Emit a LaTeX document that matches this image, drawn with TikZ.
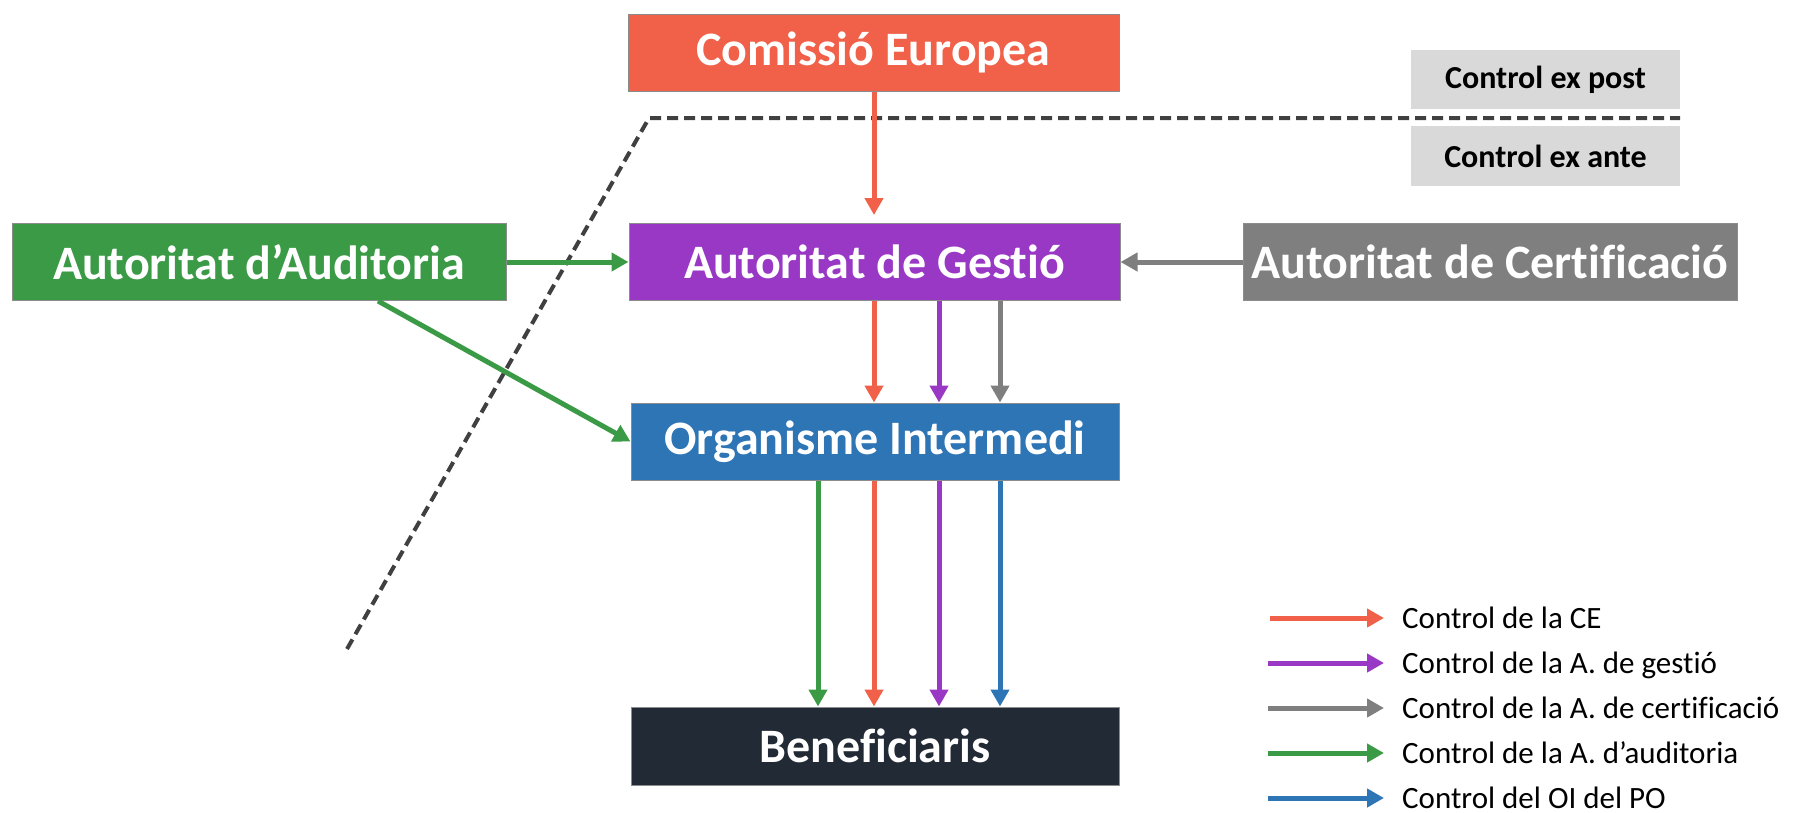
\documentclass[tikz,border=0pt]{standalone}
\usepackage{fontspec}
\setmainfont{Carlito}[Ligatures=NoCommon]
\usetikzlibrary{arrows.meta}
\definecolor{ceC}{RGB}{241,96,72}
\definecolor{agC}{RGB}{153,56,196}
\definecolor{acC}{RGB}{127,127,127}
\definecolor{aaC}{RGB}{58,154,70}
\definecolor{oiC}{RGB}{46,117,182}
\definecolor{beC}{RGB}{34,42,53}
\definecolor{ctC}{RGB}{217,217,217}
\definecolor{dashC}{RGB}{64,64,64}
\begin{document}
\begin{tikzpicture}[x=1pt,y=-1pt,
  box/.style={draw=black!45, line width=1pt, inner sep=0pt, text=white,
    minimum height=77pt, font=\fontsize{48}{57}\selectfont\bfseries},
  ctbox/.style={fill=ctC, inner sep=0pt, text=black, minimum width=269pt,
    minimum height=59pt, font=\fontsize{32}{38}\selectfont\bfseries},
  arr/.style={line width=5pt, -{Triangle[width=18pt,length=17pt]}},
  dashline/.style={draw=dashC, line width=4pt, dash pattern=on 11pt off 6pt},
  legtext/.style={inner sep=0pt, anchor=base west, text=black,
    font=\fontsize{31}{37}\selectfont}
]
\useasboundingbox (0,0) rectangle (1796,812);

% dashed separator
\coordinate (d1) at (347,649);
\coordinate (d2) at (649,118);
\coordinate (d3) at (1680,118);
\draw[dashline] (d1) -- (d2) -- (d3);

% boxes
\node[box, fill=ceC, minimum width=491pt] (ce) at (873.5,52.5) {Comissió Europea};
\node[box, fill=aaC, minimum width=494pt] (aa) at (259,262) {Autoritat d’Auditoria};
\node[box, fill=agC, minimum width=491pt] (ag) at (874.5,262) {Autoritat de Gestió};
\node[box, fill=acC, minimum width=494pt] (ac) at (1490,261.5) {Autoritat de Certificació};
\node[box, fill=oiC, minimum width=488pt] (oi) at (875,441.5) {Organisme Intermedi};
\node[box, fill=beC, minimum width=488pt, minimum height=78pt] (be) at (875,746) {Beneficiaris};

\node[ctbox] (post) at (1545.5,79.5) {Control ex post};
\node[ctbox, minimum height=60pt] (ante) at (1545.5,156) {Control ex ante};

% column coordinates
\coordinate (xg) at (818,0);
\coordinate (xr) at (874,0);
\coordinate (xp) at (939,0);
\coordinate (xc) at (1000,0);
\coordinate (xd) at (378,0);

% connectors
\draw[arr, ceC, shorten >=8pt] (ce.south -| xr) -- (ag.north -| xr);
\draw[arr, aaC] (aa.east) -- (ag.west);
\draw[arr, acC] (ac.west |- ag.east) -- (ag.east);
\draw[arr, aaC] (aa.south -| xd) -- (oi.west);

\draw[arr, ceC] (ag.south -| xr) -- (oi.north -| xr);
\draw[arr, agC] (ag.south -| xp) -- (oi.north -| xp);
\draw[arr, acC] (ag.south -| xc) -- (oi.north -| xc);

\draw[arr, aaC] (oi.south -| xg) -- (be.north -| xg);
\draw[arr, ceC] (oi.south -| xr) -- (be.north -| xr);
\draw[arr, agC] (oi.south -| xp) -- (be.north -| xp);
\draw[arr, oiC] (oi.south -| xc) -- (be.north -| xc);

% legend
\node[legtext] (t1) at (1402,628) {Control de la CE};
\node[legtext] (t2) at (1402,673) {Control de la A. de gestió};
\node[legtext] (t3) at (1402,718) {Control de la A. de certificació};
\node[legtext] (t4) at (1402,763) {Control de la A. d’auditoria};
\node[legtext] (t5) at (1402,808) {Control del OI del PO};
\coordinate (s1) at (1270,618);
\coordinate (s2) at (1268,663);
\coordinate (s3) at (1268,708);
\coordinate (s4) at (1268,753);
\coordinate (s5) at (1268,798);
\draw[arr, ceC, shorten >=18pt] (s1) -- (s1 -| t1.west);
\draw[arr, agC, shorten >=18pt] (s2) -- (s2 -| t2.west);
\draw[arr, acC, shorten >=18pt] (s3) -- (s3 -| t3.west);
\draw[arr, aaC, shorten >=18pt] (s4) -- (s4 -| t4.west);
\draw[arr, oiC, shorten >=18pt] (s5) -- (s5 -| t5.west);
\end{tikzpicture}
\end{document}
